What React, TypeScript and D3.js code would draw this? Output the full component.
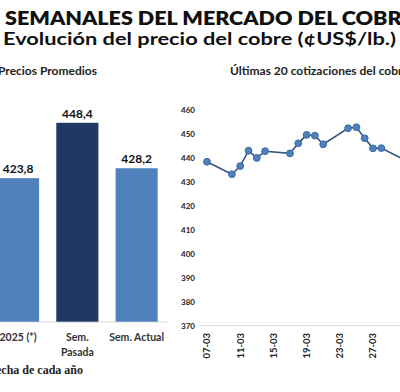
import * as d3 from "d3";

// bar chart: average prices (¢US$/lb.)
const barCategories = ["2025 (*)", "Sem.\nPasada", "Sem. Actual"];
const barValues = [423.8, 448.4, 428.2];
const barLabels = ["423,8", "448,4", "428,2"];

// last 20 quotes (dd-mm, 2025)
const quoteDates = [
  "07-03", "10-03", "11-03", "12-03", "13-03", "14-03",
  "17-03", "18-03", "19-03", "20-03", "21-03",
  "24-03", "25-03", "26-03", "27-03", "28-03",
  "31-03", "01-04", "02-04", "03-04",
];
const quoteValues = [
  438.4, 433.2, 436.6, 443.0, 440.0, 442.8,
  441.9, 446.1, 449.6, 449.3, 445.7,
  452.4, 452.8, 448.2, 444.0, 444.1,
  438.8, 437.5, 436.0, 400.5,
];
const yTicks = [370, 380, 390, 400, 410, 420, 430, 440, 450, 460];

const W = 400;
const H = 392;
const font = "Lato, 'Open Sans', sans-serif";

export default function App() {
  const parse = d3.utcParse("%d-%m-%Y");
  const dates = quoteDates.map((d) => parse(`${d}-2025`) as Date);
  const fmt = d3.utcFormat("%d-%m");

  // left panel
  const xBar = d3
    .scaleBand<string>()
    .domain(barCategories)
    .range([-11.6, 166.3])
    .paddingInner(0.29)
    .paddingOuter(0.145);
  const yBar = d3.scaleLinear().domain([360, 460]).range([321.7, 96.7]);
  const barColors = ["#4f81bd", "#1f3864", "#4f81bd"];

  // right panel
  const x = d3
    .scaleUtc()
    .domain([dates[0], d3.utcDay.offset(dates[0], 28)])
    .range([207, 207 + 28 * 8.3]);
  const y = d3.scaleLinear().domain([370, 460]).range([325.7, 110]);
  // labels every 4 days; the ones past the right edge are out of the frame
  const xTicks = d3
    .utcDay.range(dates[0], d3.utcDay.offset(dates[dates.length - 1], 1), 4)
    .filter((d) => x(d) < W - 8);

  const line = d3
    .line<number>()
    .x((_, i) => x(dates[i]))
    .y((d) => y(d));

  return (
    <svg
      width={W}
      height={H}
      style={{ position: "fixed", left: 0, top: 0, background: "#fff" }}
      fontFamily={font}
    >
      <rect width={W} height={H} fill="#fff" />

      {/* titles */}
      <text x={5} y={25} fontSize={18} fontWeight={800} fill="#111" textLength={409} lengthAdjust="spacingAndGlyphs">
        SEMANALES DEL MERCADO DEL COBRE
      </text>
      <text x={3} y={44.5} fontSize={16.5} fontWeight={700} fill="#111" textLength={393} lengthAdjust="spacingAndGlyphs">
        Evolución del precio del cobre (¢US$/lb.)
      </text>

      <text x={-2} y={75} fontSize={12} fontWeight={700} fill="#222">
        Precios Promedios
      </text>
      <text x={230} y={75} fontSize={12} fontWeight={700} fill="#222">
        Últimas 20 cotizaciones del cobre
      </text>

      {/* bars */}
      <line x1={-12} x2={167} y1={322} y2={322} stroke="#d9d9d9" />
      {barCategories.map((c, i) => (
        <g key={c}>
          <rect
            x={xBar(c)}
            y={yBar(barValues[i])}
            width={xBar.bandwidth()}
            height={yBar(360) - yBar(barValues[i])}
            fill={barColors[i]}
          />
          <text
            x={(xBar(c) as number) + xBar.bandwidth() / 2}
            y={yBar(barValues[i]) - 5}
            textAnchor="middle"
            fontSize={12}
            fontWeight={700}
            fill="#111"
          >
            {barLabels[i]}
          </text>
          {c.split("\n").map((t, j) => (
            <text
              key={j}
              x={(xBar(c) as number) + xBar.bandwidth() / 2}
              y={341 + j * 15}
              textAnchor="middle"
              fontSize={10.5}
              fontWeight={700}
              fill="#333"
            >
              {t}
            </text>
          ))}
        </g>
      ))}
      <text x={83} y={374} textAnchor="end" fontSize={12} fontWeight={700} fill="#222" fontFamily="'Liberation Serif', serif">
        (*) Promedio a la fecha de cada año
      </text>

      {/* line chart */}
      {yTicks.map((t) => (
        <text key={t} x={195} y={y(t)} dy="0.35em" textAnchor="end" fontSize={8} fontWeight={700} fill="#222">
          {t}
        </text>
      ))}
      <line x1={200} x2={W} y1={y(370)} y2={y(370)} stroke="#d9d9d9" />
      {xTicks.map((d) => (
        <text
          key={+d}
          transform={`translate(${x(d)},333) rotate(-90)`}
          dy="0.35em"
          textAnchor="end"
          fontSize={9.5}
          fontWeight={700}
          fill="#222"
        >
          {fmt(d)}
        </text>
      ))}
      <path d={line(quoteValues) ?? ""} fill="none" stroke="#36557e" strokeWidth={1.6} />
      {quoteValues.map((v, i) => (
        <circle key={i} cx={x(dates[i])} cy={y(v)} r={3.4} fill="#4f81bd" stroke="#3a6aa6" strokeWidth={1} />
      ))}
    </svg>
  );
}
